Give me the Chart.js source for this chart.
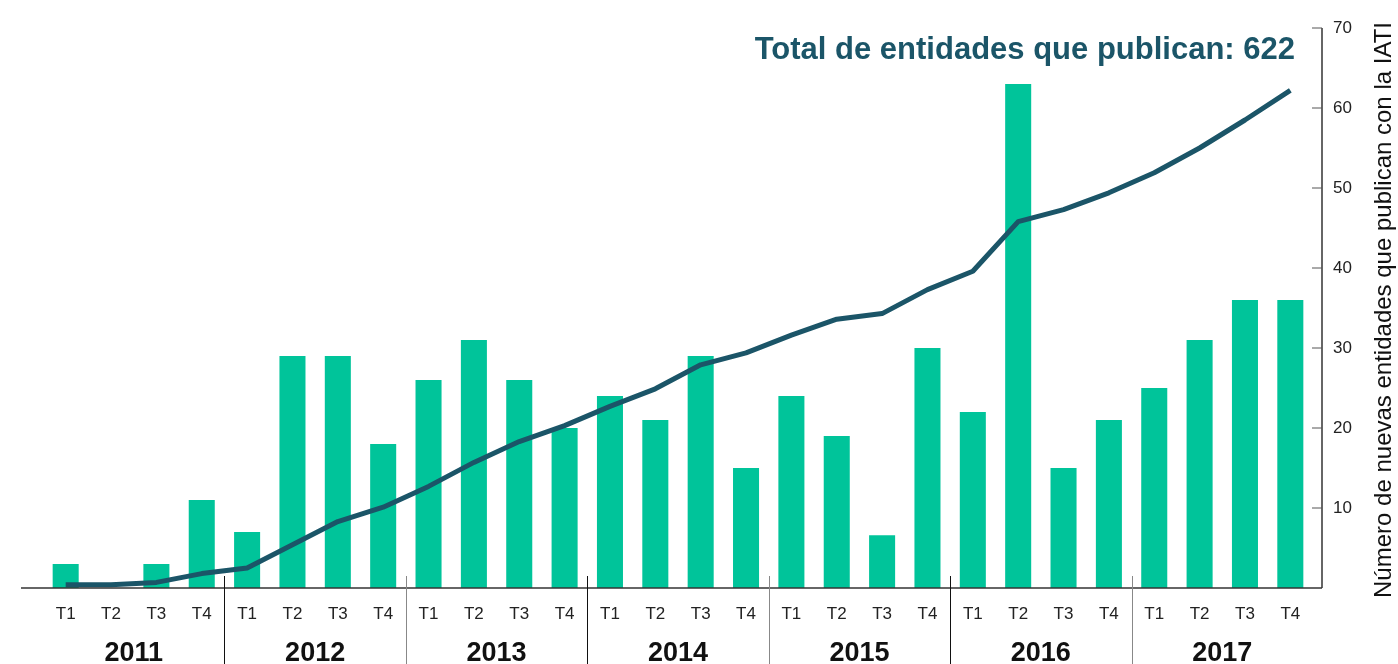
<!DOCTYPE html>
<html lang="es">
<head>
    <meta charset="UTF-8">
    <title>Entidades que publican con la IATI</title>
    <script src="https://cdn.jsdelivr.net/npm/chart.js"></script>
    <style>
        html, body { margin: 0; padding: 0; background: #fff; }
        #wrap { width: 1398px; height: 664px; }
    </style>
</head>
<body>
    <div id="wrap"><canvas id="iatiChart" width="1398" height="664"></canvas></div>

    <script>
        // datos
        const years = ['2011', '2012', '2013', '2014', '2015', '2016', '2017'];
        const quarters = ['T1', 'T2', 'T3', 'T4'];
        const newEntities = [3, 0, 3, 11, 7, 29, 29, 18, 26, 31, 26, 20, 24, 21, 29, 15, 24, 19, 6.6, 30, 22, 63, 15, 21, 25, 31, 36, 36];
        // total acumulado (en decenas)
        const cumulative = [0.4, 0.4, 0.7, 1.8, 2.5, 5.4, 8.3, 10.1, 12.7, 15.7, 18.3, 20.3, 22.7, 24.9, 27.9, 29.4, 31.6, 33.6, 34.3, 37.3, 39.6, 45.8, 47.3, 49.4, 51.9, 55.0, 58.5, 62.2];
        const yTicks = [10, 20, 30, 40, 50, 60, 70];
        const titleText = 'Total de entidades que publican: 622';
        const axisTitle = 'Número de nuevas entidades que publican con la IATI';

        const labels = [];
        years.forEach(y => quarters.forEach(q => labels.push(q)));

        const GREEN = '#00c49a';
        const DARK = '#1b5568';

        const decorations = {
            id: 'decorations',
            afterDraw(chart) {
                const ctx = chart.ctx;
                const x = chart.scales.x;
                const y = chart.scales.y;
                const area = chart.chartArea;
                const axisX = area.right + 9;
                const base = y.getPixelForValue(0);

                ctx.save();
                // linea base
                ctx.strokeStyle = '#333';
                ctx.lineWidth = 1.5;
                ctx.beginPath();
                ctx.moveTo(area.left - 22, base);
                ctx.lineTo(axisX, base);
                ctx.stroke();

                // eje derecho
                ctx.beginPath();
                ctx.moveTo(axisX, y.getPixelForValue(70));
                ctx.lineTo(axisX, base);
                ctx.stroke();

                ctx.font = '17px "Liberation Sans", Arial, sans-serif';
                ctx.fillStyle = '#222';
                ctx.textAlign = 'left';
                ctx.textBaseline = 'middle';
                yTicks.forEach(v => {
                    const py = y.getPixelForValue(v);
                    ctx.strokeStyle = '#555';
                    ctx.lineWidth = 1;
                    ctx.beginPath();
                    ctx.moveTo(axisX - 10, py);
                    ctx.lineTo(axisX, py);
                    ctx.stroke();
                    ctx.fillText(String(v), axisX + 11, py);
                });

                // titulo del eje (de abajo hacia arriba)
                ctx.save();
                ctx.translate(axisX + 62, (y.getPixelForValue(70) + base) / 2 + 2);
                ctx.rotate(-Math.PI / 2);
                ctx.font = '24px "Liberation Sans", Arial, sans-serif';
                ctx.fillStyle = '#111';
                ctx.textAlign = 'center';
                ctx.textBaseline = 'middle';
                ctx.fillText(axisTitle, 0, 0);
                ctx.restore();

                // separadores y etiquetas de año
                years.forEach((yr, i) => {
                    const first = x.getPixelForValue(i * 4);
                    const last = x.getPixelForValue(i * 4 + 3);
                    if (i > 0) {
                        const sep = (first + x.getPixelForValue(i * 4 - 1)) / 2;
                        ctx.strokeStyle = i % 2 === 1 ? '#111' : '#888';
                        ctx.lineWidth = 1;
                        ctx.beginPath();
                        ctx.moveTo(Math.round(sep) + 0.5, base - 12);
                        ctx.lineTo(Math.round(sep) + 0.5, chart.height);
                        ctx.stroke();
                    }
                    ctx.font = 'bold 27px "Liberation Sans", Arial, sans-serif';
                    ctx.fillStyle = '#111';
                    ctx.textAlign = 'center';
                    ctx.textBaseline = 'middle';
                    ctx.fillText(yr, (first + last) / 2, base + 66);
                });

                // titulo
                ctx.font = 'bold 31px "Liberation Sans", Arial, sans-serif';
                ctx.fillStyle = DARK;
                ctx.textAlign = 'right';
                ctx.textBaseline = 'alphabetic';
                ctx.fillText(titleText, area.right - 18, 59);
                ctx.restore();
            }
        };

        new Chart(document.getElementById('iatiChart'), {
            data: {
                labels: labels,
                datasets: [{
                    type: 'line',
                    label: 'Total acumulado',
                    data: cumulative,
                    borderColor: DARK,
                    borderWidth: 5,
                    pointRadius: 0,
                    tension: 0,
                    borderCapStyle: 'butt',
                    borderJoinStyle: 'round',
                    order: 0
                }, {
                    type: 'bar',
                    label: 'Nuevas entidades',
                    data: newEntities,
                    backgroundColor: GREEN,
                    barPercentage: 0.574,
                    categoryPercentage: 1,
                    order: 1
                }]
            },
            options: {
                responsive: false,
                animation: false,
                layout: { padding: { left: 43, right: 85, top: 28, bottom: 0 } },
                plugins: {
                    legend: { display: false },
                    tooltip: { enabled: false }
                },
                scales: {
                    x: {
                        grid: { display: false, drawTicks: false },
                        border: { display: false },
                        ticks: {
                            color: '#222',
                            padding: 16,
                            maxRotation: 0,
                            autoSkip: false,
                            font: { family: '"Liberation Sans Narrow", "Liberation Sans", Arial, sans-serif', size: 17 }
                        },
                        afterFit(scale) { scale.height = 76; }
                    },
                    y: {
                        display: false,
                        min: 0,
                        max: 70
                    }
                }
            },
            plugins: [decorations]
        });
    </script>
</body>
</html>
